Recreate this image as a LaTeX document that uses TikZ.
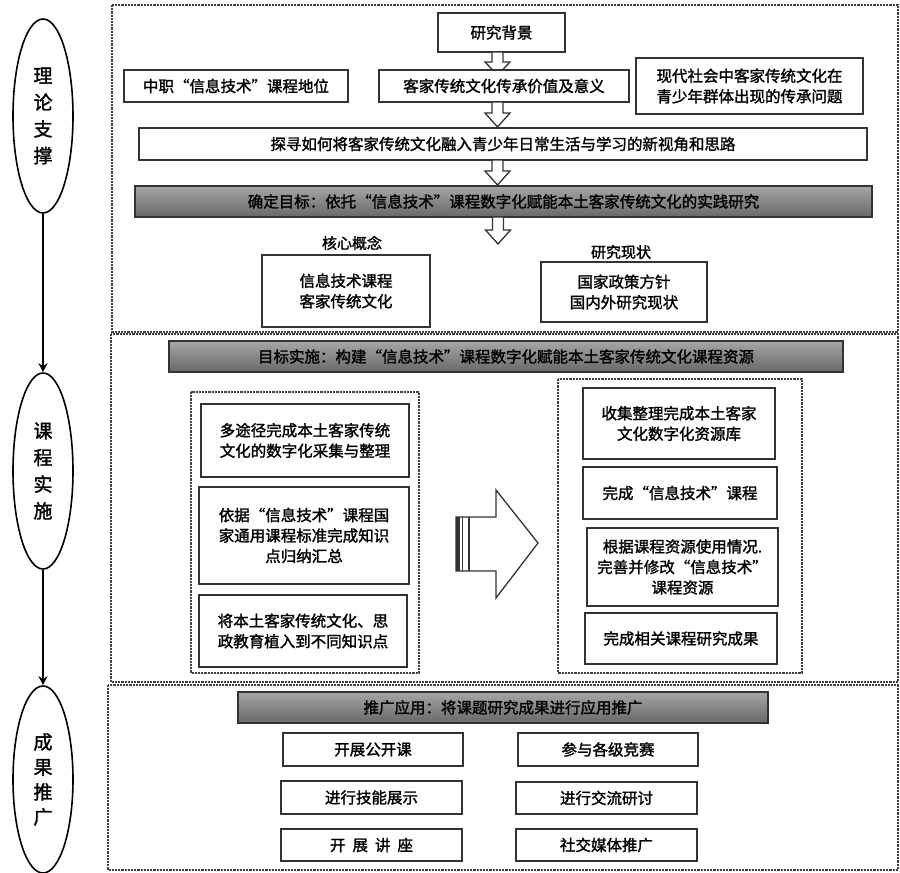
\documentclass[tikz,border=0pt]{standalone}
\usepackage{fontspec}
\setmainfont{Noto Sans CJK SC}[FakeBold=1.6]
\usetikzlibrary{shapes.geometric,arrows.meta}
\definecolor{ln}{HTML}{333333}
\definecolor{dl}{HTML}{404040}
\definecolor{gtop}{HTML}{A6A6A6}
\definecolor{gbot}{HTML}{686868}
\tikzset{
  box/.style={draw=ln, line width=1.4pt, fill=white, inner sep=0pt, align=center,
    font=\fontsize{15.5}{20.5}\selectfont},
  graybox/.style={draw=ln, line width=1.2pt, top color=gtop, bottom color=gbot,
    inner sep=0pt, align=center, font=\fontsize{15.5}{20.5}\selectfont},
  dashbox/.style={draw=dl, line width=1.4pt, dash pattern=on 2.2pt off 1pt},
  ell/.style={ellipse, draw=black, line width=1.6pt, minimum width=60pt, inner sep=0pt,
    align=center, font=\fontsize{19}{26.7}\selectfont},
  lbl/.style={inner sep=0pt, font=\fontsize{15}{18}\selectfont},
  conn/.style={-{Stealth[length=9pt,width=9pt]}, line width=1.8pt, draw=black},
  barrow/.style={draw=ln, line width=1.3pt, fill=white, line join=miter},
}
\newcommand\bx[7][box]{\node[#1, minimum width={(#5-#3)*1pt}, minimum height={(#6-#4)*1pt}] (#2) at ({(#3+#5)/2},{(#4+#6)/2}) {#7};}
\newcommand\darr[4]{\draw[barrow] (#1-5.5,#2) -- (#1+5.5,#2) -- (#1+5.5,#3) -- (#1+12.5,#3) -- (#1,#4) -- (#1-12.5,#3) -- (#1-5.5,#3) -- cycle;}
\begin{document}
\begin{tikzpicture}[x=1pt,y=-1pt]
\useasboundingbox[fill=white] (0,0) rectangle (900,873);
% outer dashed sections
\draw[dashbox] (112,5) rectangle (898,332);
\draw[dashbox] (111,334) rectangle (898,682);
\draw[dashbox] (108,685) rectangle (898,870);
% left ellipses
\node[ell, minimum height=194pt] (e1) at (43,116) {理\\论\\支\\撑};
\node[ell, minimum height=196pt] (e2) at (43,471) {课\\程\\实\\施};
\node[ell, minimum height=187pt, font=\fontsize{19}{25}\selectfont] (e3) at (43,779.5) {成\\果\\推\\广};
\draw[conn] (e1.south) -- (e2.north);
\draw[conn] (e2.south) -- (e3.north);
% top section
\bx{bg}{438}{13}{565}{52}{研究背景}
\darr{497.5}{52}{62}{75}
\bx{zz}{124}{70}{348}{102}{中职“信息技术”课程地位}
\bx{jz}{379}{70}{629}{102}{客家传统文化传承价值及意义}
\bx{xd}{636}{58}{863}{114}{现代社会中客家传统文化在\\青少年群体出现的传承问题}
\darr{497.5}{102}{113}{127}
\bx{tx}{139}{128}{867}{160}{探寻如何将客家传统文化融入青少年日常生活与学习的新视角和思路}
\darr{497.5}{160}{171}{185}
\bx[graybox]{mb}{135}{186}{872}{217}{确定目标：依托“信息技术”课程数字化赋能本土客家传统文化的实践研究}
\darr{498}{217}{230}{244}
\node[lbl] (l1) at (352,243) {核心概念};
\bx{hx}{262}{255}{430}{327}{信息技术课程\\客家传统文化}
\node[lbl] (l2) at (621,252) {研究现状};
\bx{yj}{541}{262}{707}{322}{国家政策方针\\国内外研究现状}
% middle section
\bx[graybox]{ss}{169}{341}{843}{372}{目标实施：构建“信息技术”课程数字化赋能本土客家传统文化课程资源}
\draw[dashbox] (191,392) rectangle (419,673);
\bx{a1}{201}{404}{409}{477}{多途径完成本土客家传统\\文化的数字化采集与整理}
\bx{a2}{199}{487}{409}{584}{依据“信息技术”课程国\\家通用课程标准完成知识\\点归纳汇总}
\bx{a3}{199}{595}{407}{667}{将本土客家传统文化、思\\政教育植入到不同知识点}
\draw[dashbox] (558,379) rectangle (802,673);
\bx{b1}{583}{388}{775}{459}{收集整理完成本土客家\\文化数字化资源库}
\bx{b2}{583}{467}{777}{519}{完成“信息技术”课程}
\bx{b3}{587}{528}{778}{606}{根据课程资源使用情况.\\完善并修改“信息技术”\\课程资源}
\bx{b4}{585}{613}{777}{664}{完成相关课程研究成果}
% big arrow
\draw[barrow] (456,517) -- (496,517) -- (496,490) -- (538,543) -- (496,598) -- (496,571) -- (456,571) -- cycle;
\fill[ln] (456,517) rectangle (459.5,571);
\draw[ln, line width=1.2pt] (462.5,517) -- (462.5,571);
\draw[ln, line width=1.2pt] (469,517) -- (469,571);
% bottom section
\bx[graybox]{tg}{238}{692}{768}{723}{推广应用：将课题研究成果进行应用推广}
\bx{c1}{283}{733}{463}{766}{开展公开课}
\bx{c2}{518}{733}{698}{766}{参与各级竞赛}
\bx{c3}{281}{781}{462}{814}{进行技能展示}
\bx{c4}{516}{782}{697}{814}{进行交流研讨}
\bx{c5}{281}{829}{462}{861}{开\hspace{7pt}展\hspace{7pt}讲\hspace{7pt}座}
\bx{c6}{516}{829}{697}{861}{社交媒体推广}
\end{tikzpicture}
\end{document}
